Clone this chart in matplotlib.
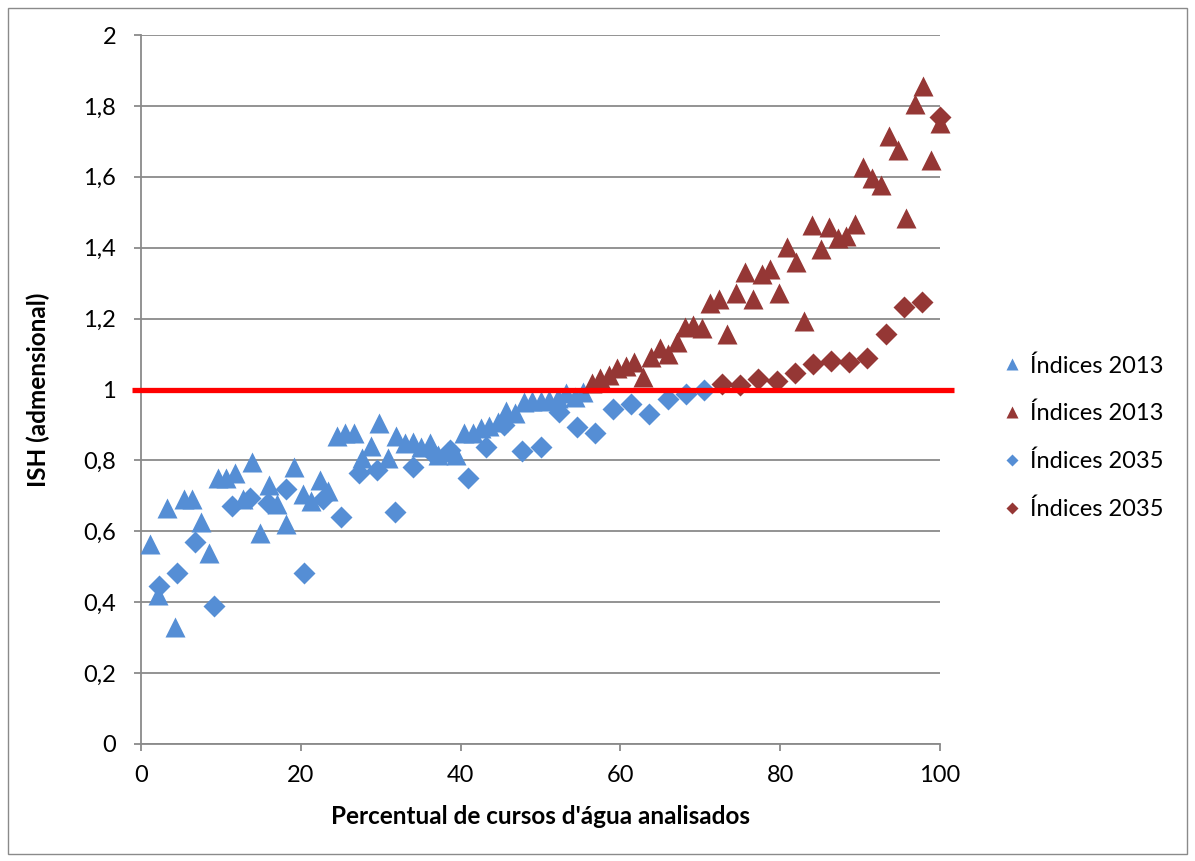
import numpy as np
import matplotlib
matplotlib.use("Agg")
import matplotlib.pyplot as plt
from matplotlib.patches import Rectangle
from matplotlib.ticker import FuncFormatter, MultipleLocator

plt.rcParams['font.family'] = ['Lato', 'DejaVu Sans']

# ISH index of each water course in 2013, sorted ascending
ish_2013 = [
    0.564, 0.420, 0.665, 0.330, 0.690, 0.690, 0.626, 0.540, 0.750, 0.750,
    0.765, 0.690, 0.796, 0.596, 0.730, 0.677, 0.620, 0.780, 0.705, 0.686,
    0.746, 0.715, 0.869, 0.878, 0.878, 0.806, 0.840, 0.905, 0.806, 0.869,
    0.848, 0.853, 0.837, 0.850, 0.815, 0.825, 0.815, 0.877, 0.877, 0.890,
    0.897, 0.909, 0.940, 0.935, 0.966, 0.968, 0.968, 0.970, 0.975, 0.989,
    0.980, 0.994,
    1.017, 1.032, 1.040, 1.060, 1.066, 1.078, 1.036, 1.093, 1.116, 1.100,
    1.135, 1.176, 1.182, 1.173, 1.245, 1.254, 1.157, 1.271, 1.332, 1.254,
    1.327, 1.339, 1.273, 1.403, 1.360, 1.194, 1.464, 1.395, 1.459, 1.426,
    1.433, 1.468, 1.627, 1.596, 1.577, 1.715, 1.677, 1.483, 1.804, 1.856,
    1.647, 1.752,
]

# ISH index projected for 2035
ish_2035 = [
    0.446, 0.483, 0.571, 0.389, 0.671, 0.693, 0.681, 0.718, 0.483, 0.690,
    0.640, 0.765, 0.773, 0.655, 0.782, 0.820, 0.830, 0.749, 0.837, 0.900,
    0.827, 0.838, 0.937, 0.895, 0.877, 0.944, 0.959, 0.930, 0.972, 0.987,
    0.998,
    1.015, 1.014, 1.030, 1.023, 1.046, 1.072, 1.081, 1.077, 1.090, 1.156,
    1.232, 1.246, 1.768,
]

# percentage of analysed water courses (rank / count)
pct_2013 = np.arange(1, len(ish_2013) + 1) * 100.0 / len(ish_2013)
pct_2035 = np.arange(1, len(ish_2035) + 1) * 100.0 / len(ish_2035)

threshold = 1.0
blue = '#558ED5'
darkred = '#953735'

a13 = np.array(ish_2013)
a35 = np.array(ish_2035)
low13 = a13 < threshold
low35 = a35 < threshold

fig = plt.figure(figsize=(11.95, 8.61), dpi=100)
ax = fig.add_axes([141 / 1195, 1 - 744 / 861, (940 - 141) / 1195, (744 - 35) / 861])

ax.set_xlim(0, 100)
ax.set_ylim(0, 2)

ax.yaxis.set_major_locator(MultipleLocator(0.2))
ax.xaxis.set_major_locator(MultipleLocator(20))
ax.yaxis.set_major_formatter(FuncFormatter(lambda v, p: ('%g' % round(v, 1)).replace('.', ',')))

ax.grid(axis='y', color='#8a8a8a', linewidth=1.3, zorder=0)
ax.set_axisbelow(True)
for s in ('top', 'right'):
    ax.spines[s].set_visible(False)
for s in ('left', 'bottom'):
    ax.spines[s].set_color('#8a8a8a')
    ax.spines[s].set_linewidth(1.3)
ax.tick_params(axis='both', colors='#8a8a8a', labelcolor='black', labelsize=17,
               length=5, width=1.3, direction='out')
ax.tick_params(axis='x', pad=10)
ax.tick_params(axis='y', pad=13)

ms_tri = 14.5
ms_dia = 11
ax.plot(pct_2013[low13], a13[low13], ls='none', marker='^', ms=ms_tri,
        mfc=blue, mec='none', label='Índices 2013', zorder=3, clip_on=False)
ax.plot(pct_2013[~low13], a13[~low13], ls='none', marker='^', ms=ms_tri,
        mfc=darkred, mec='none', label='Índices 2013', zorder=3, clip_on=False)
ax.plot(pct_2035[low35], a35[low35], ls='none', marker='D', ms=ms_dia,
        mfc=blue, mec='none', label='Índices 2035', zorder=4, clip_on=False)
ax.plot(pct_2035[~low35], a35[~low35], ls='none', marker='D', ms=ms_dia,
        mfc=darkred, mec='none', label='Índices 2035', zorder=4, clip_on=False)

# reference line ISH = 1
ax.plot([-1.1, 101.8], [threshold, threshold], color='#FF0000', lw=3.8,
        solid_capstyle='butt', clip_on=False, zorder=5)

ax.set_xlabel("Percentual de cursos d'água analisados", fontsize=17.5,
              fontweight='bold', labelpad=14)
ax.set_ylabel('ISH (admensional)', fontsize=17.5, fontweight='bold', labelpad=24)

leg = ax.legend(loc='center left', bbox_to_anchor=(1.07, 0.432), frameon=False,
                fontsize=17, handlelength=0.6, handletextpad=0.45,
                labelspacing=1.12, markerscale=0.6, borderaxespad=0)

# chart area frame
fig.patches.append(Rectangle((8 / 1195, 7 / 861), 1179 / 1195, 846 / 861,
                             transform=fig.transFigure, fill=False,
                             edgecolor='#8a8a8a', linewidth=1.0))

fig.savefig('out.png', dpi=100)
